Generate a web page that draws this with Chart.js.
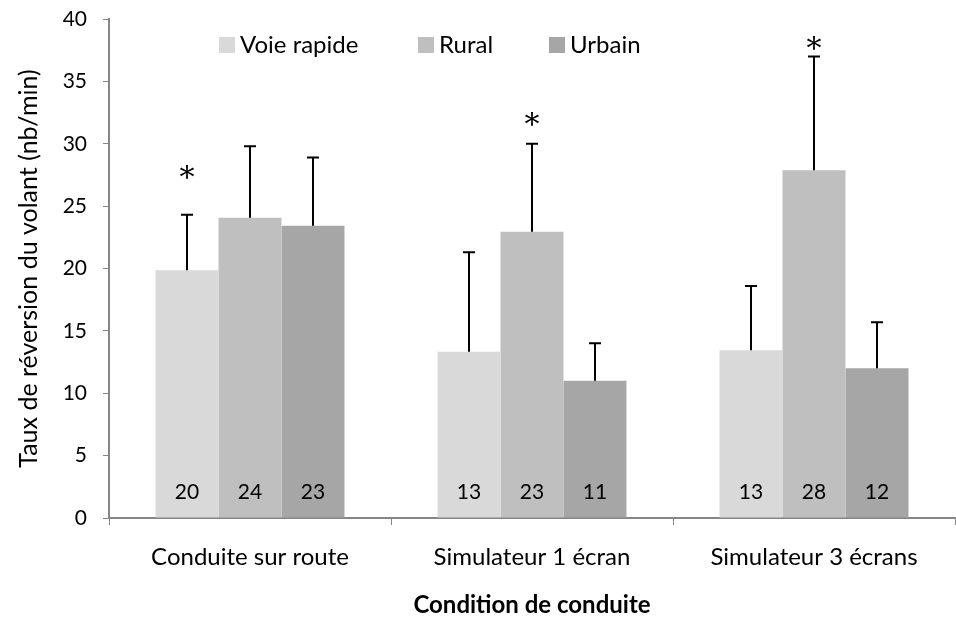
<!DOCTYPE html>
<html>
<head>
<meta charset="utf-8">
<script src="https://cdn.jsdelivr.net/npm/chart.js@4.4.0/dist/chart.umd.min.js"></script>
<style>
  html, body { margin: 0; padding: 0; background: #fff; overflow: hidden; }
  #wrap { width: 956px; height: 622px; }
</style>
</head>
<body>
<div id="wrap"><canvas id="chart" width="956" height="622"></canvas></div>
<script>
// Data
const conditions = ['Conduite sur route', 'Simulateur 1 écran', 'Simulateur 3 écrans'];
const seriesNames = ['Voie rapide', 'Rural', 'Urbain'];
const seriesColors = ['#d9d9d9', '#bfbfbf', '#a6a6a6'];

const voieRapide = [19.85, 13.33, 13.45];
const rural = [24.07, 22.95, 27.87];
const urbain = [23.43, 11.0, 12.0];

// upper end of error bars
const voieRapideErr = [24.3, 21.3, 18.6];
const ruralErr = [29.8, 30.0, 37.0];
const urbainErr = [28.9, 14.0, 15.7];

// significance stars (value where the star sits, null = none)
const voieRapideStar = [27.6, null, null];
const ruralStar = [null, 31.9, 38.0];
const urbainStar = [null, null, null];

const yTicks = [0, 5, 10, 15, 20, 25, 30, 35, 40];

const FONT = 'Lato, "Open Sans", sans-serif';
const AXIS_COLOR = '#868686';

const allValues = [voieRapide, rural, urbain];
const allErr = [voieRapideErr, ruralErr, urbainErr];
const allStars = [voieRapideStar, ruralStar, urbainStar];

// error bars, stars and value labels
const annotations = {
    id: 'annotations',
    afterDatasetsDraw(chart) {
        const ctx = chart.ctx;
        const y = chart.scales.y;
        ctx.save();
        chart.data.datasets.forEach((ds, di) => {
            const meta = chart.getDatasetMeta(di);
            meta.data.forEach((bar, i) => {
                const x = Math.round(bar.x);
                const top = y.getPixelForValue(allErr[di][i]);
                // error bar
                ctx.strokeStyle = '#000';
                ctx.lineWidth = 2;
                ctx.beginPath();
                ctx.moveTo(x, bar.y);
                ctx.lineTo(x, top);
                ctx.moveTo(x - 6, top);
                ctx.lineTo(x + 6, top);
                ctx.stroke();
                // value label
                ctx.fillStyle = '#000';
                ctx.font = '21px ' + FONT;
                ctx.textAlign = 'center';
                ctx.textBaseline = 'middle';
                ctx.fillText(String(Math.round(ds.data[i])), x, y.getPixelForValue(0) - 26);
                // star
                const s = allStars[di][i];
                if (s !== null) {
                    ctx.font = '30px "DejaVu Serif", serif';
                    ctx.fillText('*', x, y.getPixelForValue(s) + 6);
                }
            });
        });
        ctx.restore();
    }
};

// legend drawn inside the plot area
const insideLegend = {
    id: 'insideLegend',
    afterDraw(chart) {
        const ctx = chart.ctx;
        const area = chart.chartArea;
        const starts = [110, 309, 440];
        const ly = area.top + 26;
        ctx.save();
        ctx.font = '24px ' + FONT;
        ctx.textBaseline = 'middle';
        ctx.textAlign = 'left';
        seriesNames.forEach((name, i) => {
            const lx = area.left + starts[i];
            ctx.fillStyle = seriesColors[i];
            ctx.fillRect(lx, ly - 8, 16, 16);
            ctx.fillStyle = '#000';
            ctx.fillText(name, lx + 21, ly);
        });
        ctx.restore();
    }
};

const config = {
    type: 'bar',
    data: {
        labels: conditions,
        datasets: seriesNames.map((name, i) => ({
            label: name,
            data: allValues[i],
            backgroundColor: seriesColors[i],
            borderWidth: 0,
            categoryPercentage: 0.67,
            barPercentage: 1.0
        }))
    },
    options: {
        responsive: false,
        animation: false,
        layout: { padding: { top: 19, right: 1, left: 0, bottom: 0 } },
        plugins: {
            legend: { display: false },
            tooltip: { enabled: false }
        },
        scales: {
            x: {
                grid: {
                    display: true,
                    drawOnChartArea: false,
                    drawTicks: true,
                    tickLength: 7,
                    color: AXIS_COLOR,
                    offset: true
                },
                border: { color: AXIS_COLOR, width: 2 },
                ticks: {
                    color: '#000',
                    font: { family: FONT, size: 24 },
                    padding: 18,
                    maxRotation: 0
                },
                title: {
                    display: true,
                    text: 'Condition de conduite',
                    color: '#000',
                    font: { family: FONT, size: 24, weight: 'bold' },
                    padding: { top: 0, bottom: 2 }
                },
                afterFit(scale) {
                    scale.height = 104;
                    scale.paddingLeft = 0;
                    scale.paddingRight = 0;
                }
            },
            y: {
                min: 0,
                max: 40,
                afterBuildTicks(scale) {
                    scale.ticks = yTicks.map(v => ({ value: v }));
                },
                grid: {
                    display: true,
                    drawOnChartArea: false,
                    drawTicks: true,
                    tickLength: 6,
                    color: AXIS_COLOR
                },
                border: { color: AXIS_COLOR, width: 2 },
                ticks: {
                    color: '#000',
                    font: { family: FONT, size: 21 },
                    padding: 16
                },
                title: {
                    display: true,
                    text: 'Taux de réversion du volant (nb/min)',
                    color: '#000',
                    font: { family: FONT, size: 25 },
                    padding: { top: 14, bottom: 0 }
                },
                afterFit(scale) {
                    scale.width = 109;
                    scale.paddingTop = 0;
                    scale.paddingBottom = 0;
                }
            }
        }
    },
    plugins: [annotations, insideLegend]
};

new Chart(document.getElementById('chart').getContext('2d'), config);
</script>
</body>
</html>
